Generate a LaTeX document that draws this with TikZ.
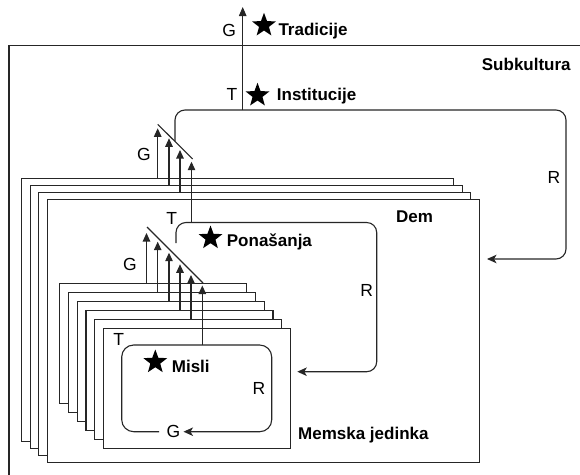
\documentclass[tikz,border=0pt]{standalone}
\usepackage{fontspec}
\setmainfont{Liberation Sans}
\usetikzlibrary{shapes.geometric,arrows.meta}
\begin{document}
\begin{tikzpicture}[x=1pt,y=-1pt,
  ln/.style={draw=black!85,line width=1.1pt},
  card/.style={ln,fill=white,inner sep=0pt,anchor=north west},
  demcard/.style={card,minimum width=432pt,minimum height=263pt},
  memcard/.style={card,minimum width=187pt,minimum height=120pt},
  upar/.style={ln,-{Triangle[length=8.5pt,width=7.5pt]}},
  looparr/.style={ln,rounded corners=10pt,-{Stealth[length=9.5pt,width=8.5pt,inset=2.5pt]}},
  bl/.style={font=\fontsize{17}{19}\selectfont\bfseries,inner sep=0pt},
  rl/.style={font=\fontsize{17.5}{19}\selectfont,inner sep=0pt},
  starn/.style={star,star points=5,star point ratio=2.4,fill=black,draw=none,inner sep=0pt,minimum size=25pt}]
\useasboundingbox (0,0) rectangle (580,474);
\clip (0,0) rectangle (580,474);

% Subkultura frame (cut at right and bottom)
\draw[ln] (9,600) -- (9,45.5) -- (700,45.5);

% Institucije loop
\coordinate (iA) at (175,141);
\coordinate (iB) at (175,110);
\coordinate (iC) at (566,110);
\coordinate (iD) at (566,259);
\coordinate (iE) at (487,259);
\draw[looparr] (iA) -- (iB) -- (iC) -- (iD) -- (iE);

% main stem to Tradicije
\coordinate (stemB) at (242.7,110);
\coordinate (stemT) at (242.7,7);
\draw[upar,-{Triangle[length=9pt,width=7.5pt]}] (stemB) -- (stemT);

% Dem stack
\foreach \i in {0,...,3} {
  \node[demcard] (dem\i) at ({21+8.67*\i},{178+7*\i}) {};
}
% Dem arrows
\coordinate (dt0) at (157.7,128.3);
\coordinate (dt1) at (169,138.3);
\coordinate (dt2) at (180,150);
\coordinate (dt3) at (191.5,161.7);
\draw[upar] (dt0 |- dem0.north) -- (dt0);
\draw[upar] (dt1 |- dem1.north) -- (dt1);
\draw[upar] (dt2 |- dem2.north) -- (dt2);
\coordinate (dd1) at (157.7,124.3);
\coordinate (dd2) at (192.7,159);
\draw[ln] (dd1) -- (dd2);

% Ponasanja loop
\coordinate (pA) at (176,243);
\coordinate (pB) at (176,222.5);
\coordinate (pC) at (376.7,222.5);
\coordinate (pD) at (376.7,371.7);
\coordinate (pE) at (297.3,371.7);
\draw[looparr] (pA) -- (pB) -- (pC) -- (pD) -- (pE);
\coordinate (pStem) at (191.5,222.5);
\draw[upar] (pStem) -- (dt3);

% Memska stack
\foreach \i in {0,...,5} {
  \node[memcard] (mem\i) at ({59+8.8*\i},{283+8.9*\i}) {};
}
% Memska arrows
\coordinate (mt0) at (146.5,233);
\coordinate (mt1) at (157.7,241.7);
\coordinate (mt2) at (169,252.7);
\coordinate (mt3) at (180,264.3);
\coordinate (mt4) at (191,275);
\coordinate (mt5) at (202.3,285.5);
\draw[upar] (mt0 |- mem0.north) -- (mt0);
\draw[upar] (mt1 |- mem1.north) -- (mt1);
\draw[upar] (mt2 |- mem2.north) -- (mt2);
\draw[upar] (mt3 |- mem3.north) -- (mt3);
\draw[upar] (mt4 |- mem4.north) -- (mt4);
\coordinate (md1) at (147,227);
\coordinate (md2) at (203,283);
\draw[ln] (md1) -- (md2);

% Misli loop
\coordinate (mA) at (159,431.7);
\coordinate (mB) at (121.7,431.7);
\coordinate (mC) at (121.7,345);
\coordinate (mD) at (271.7,345);
\coordinate (mE) at (271.7,431.7);
\coordinate (mF) at (183.5,431.7);
\draw[looparr,rounded corners=12pt] (mA) -- (mB) -- (mC) -- (mD) -- (mE) -- (mF);
\coordinate (mStem) at (202.3,345);
\draw[upar] (mStem) -- (mt5);

% labels
\node[rl,anchor=base] (gtrad) at (229.3,36.7) {G};
\node[starn] (star1) at (264,25.3) {};
\node[bl,anchor=base west] (trad) at (278.3,35.5) {Tradicije};
\node[bl,anchor=base west] (subk) at (481.7,70.7) {Subkultura};
\node[rl,anchor=base] (tinst) at (232,100) {T};
\node[starn] (star2) at (257.5,95.3) {};
\node[bl,anchor=base west] (inst) at (276.7,100) {Institucije};
\node[rl,anchor=base] (rinst) at (554,183.3) {R};
\node[rl,anchor=base] (gdem) at (144,160.7) {G};
\node[rl,anchor=base] (tdem) at (171.7,224) {T};
\node[bl,anchor=base west] (demlbl) at (396,222.7) {Dem};
\node[starn] (star3) at (210.5,238) {};
\node[bl,anchor=base west] (pon) at (226.7,246.7) {Ponašanja};
\node[rl,anchor=base] (rpon) at (366.7,296.7) {R};
\node[rl,anchor=base] (gmem) at (130,270.7) {G};
\node[rl,anchor=base] (tmem) at (118.7,345.7) {T};
\node[starn] (star4) at (155.3,362) {};
\node[bl,anchor=base west] (misli) at (171.7,372.7) {Misli};
\node[rl,anchor=base] (rmis) at (259,394.3) {R};
\node[rl,anchor=base] (gmis) at (173.5,437.7) {G};
\node[bl,anchor=base west] (memska) at (298,439) {Memska jedinka};
\end{tikzpicture}
\end{document}
